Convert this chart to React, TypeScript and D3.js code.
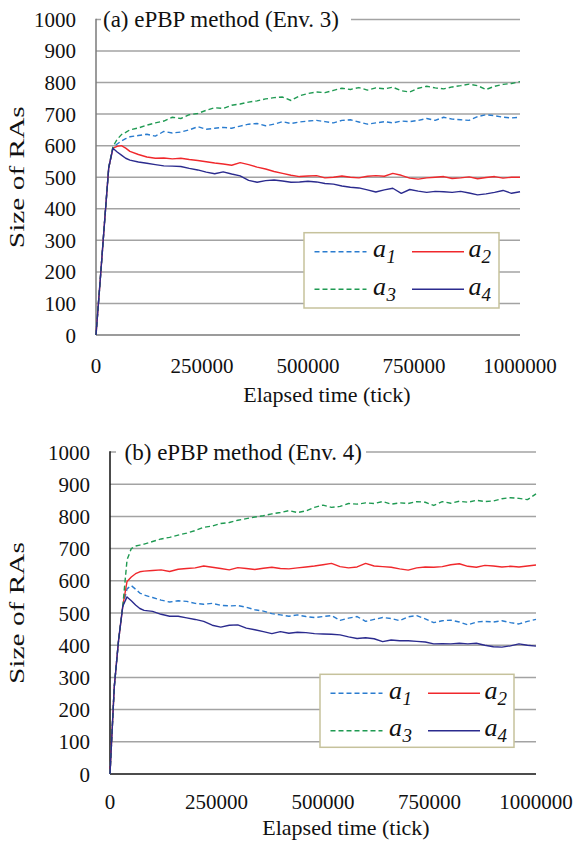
import React from 'react';
import * as d3 from 'd3';

const TICKS = [
  0, 10000, 20000, 30000, 40000, 50000, 60000, 70000, 80000,
  100000, 120000, 140000, 160000, 180000, 200000, 220000, 240000, 260000, 280000,
  300000, 320000, 340000, 360000, 380000, 400000, 420000, 440000, 460000, 480000,
  500000, 520000, 540000, 560000, 580000, 600000, 620000, 640000, 660000, 680000,
  700000, 720000, 740000, 760000, 780000, 800000, 820000, 840000, 860000, 880000,
  900000, 920000, 940000, 960000, 980000, 1000000,
];

const X_TICKS = [0, 250000, 500000, 750000, 1000000];
const Y_TICKS = [0, 100, 200, 300, 400, 500, 600, 700, 800, 900, 1000];
const SERIES_SUBS = ['1', '2', '3', '4'];
const SERIES_COLORS = ['#2a7ccf', '#f0282c', '#1f9a52', '#2b2b8e'];
const SERIES_DASHED = [true, false, true, false];

// (a) Env. 3
const A_A1 = [
  0, 175, 355, 530, 595, 605, 615, 622, 628,
  632, 636, 630, 645, 640, 643, 650, 660, 652, 655,
  658, 655, 662, 668, 670, 663, 668, 676, 670, 675,
  678, 680, 676, 672, 680, 682, 675, 668, 672, 676,
  672, 678, 676, 680, 686, 680, 690, 684, 682, 680,
  692, 698, 695, 690, 688, 690,
];
const A_A2 = [
  0, 175, 355, 530, 592, 598, 600, 592, 582,
  572, 564, 560, 561, 558, 560, 556, 553, 549, 545,
  542, 538, 546, 540, 532, 526, 518, 512, 506, 502,
  504, 505, 498, 500, 504, 500, 498, 503, 505, 503,
  512, 506, 497, 494, 498, 500, 502, 496, 498, 501,
  495, 499, 502, 497, 500, 500,
];
const A_A3 = [
  0, 175, 355, 530, 597, 620, 635, 642, 650,
  656, 665, 672, 678, 690, 686, 698, 702, 712, 720,
  718, 728, 732, 738, 742, 748, 752, 754, 743, 758,
  765, 770, 768, 775, 782, 778, 784, 776, 783, 780,
  785, 774, 770, 782, 788, 783, 780, 786, 790, 795,
  790, 778, 788, 794, 797, 803,
];
const A_A4 = [
  0, 175, 355, 530, 592, 580, 570, 560, 554,
  548, 544, 540, 536, 535, 534, 528, 523, 516, 511,
  517, 510, 504, 490, 484, 489, 491, 488, 484, 485,
  487, 485, 480, 478, 472, 468, 466, 460, 453, 460,
  465, 449, 461, 456, 452, 455, 454, 452, 455, 450,
  444, 447, 452, 458, 449, 454,
];

// (b) Env. 4
const B_A1 = [
  0, 270, 414, 521, 575, 585, 574, 562, 556,
  548, 540, 534, 538, 536, 530, 527, 530, 524, 522,
  523, 518, 510, 506, 498, 494, 490, 494, 489, 486,
  489, 492, 477, 484, 489, 474, 480, 486, 483, 476,
  488, 492, 482, 470, 476, 478, 472, 463, 472, 474,
  472, 476, 470, 466, 474, 480,
];
const B_A2 = [
  0, 270, 414, 521, 598, 612, 622, 628, 630,
  632, 634, 629, 636, 638, 640, 646, 642, 638, 634,
  641, 638, 635, 639, 642, 638, 637, 640, 643, 646,
  650, 654, 644, 640, 643, 654, 646, 644, 642, 637,
  633, 640, 643, 642, 644, 650, 653, 645, 642, 648,
  646, 643, 645, 643, 646, 649,
];
const B_A3 = [
  0, 270, 414, 521, 665, 700, 708, 711, 714,
  722, 730, 735, 742, 748, 756, 766, 770, 778, 781,
  788, 793, 798, 802, 808, 812, 818, 812, 817, 828,
  835, 828, 831, 840, 838, 842, 840, 846, 838, 842,
  840, 846, 844, 834, 846, 841, 847, 844, 850, 846,
  848, 855, 858, 856, 852, 870,
];
const B_A4 = [
  0, 270, 414, 521, 550, 538, 525, 514, 508,
  505, 496, 490, 490, 485, 480, 474, 462, 456, 462,
  463, 453, 448, 442, 436, 442, 437, 440, 439, 436,
  435, 434, 432, 426, 421, 423, 420, 411, 416, 414,
  414, 412, 410, 404, 405, 404, 406, 404, 406, 400,
  395, 394, 398, 404, 400, 397,
];

const PANELS = [
  {
    title: '(a) ePBP method (Env. 3)',
    series: [A_A1, A_A2, A_A3, A_A4],
    left: 96, right: 520, top: 19.4, bottom: 335,
    titleX: 103, gap: [101, 351],
    legend: { x: 304, y: 232.7, w: 195, h: 75.3 },
    axisColor: '#7a7a7a',
    xTitleX: 327, tickDy: 38, titleDy: 67,
  },
  {
    title: '(b) ePBP method (Env. 4)',
    series: [B_A1, B_A2, B_A3, B_A4],
    left: 110, right: 536, top: 452, bottom: 774,
    titleX: 124.6, gap: [116, 366],
    legend: { x: 320, y: 674.3, w: 194, h: 73 },
    axisColor: '#111111',
    xTitleX: 346, tickDy: 35, titleDy: 61,
  },
];

const FONT = "'Liberation Serif', Tinos, 'Times New Roman', Times, 'Nimbus Roman', serif";

function Panel({ p }: { p: any }) {
  const x = d3.scaleLinear().domain([0, 1000000]).range([p.left, p.right]);
  const y = d3.scaleLinear().domain([0, 1000]).range([p.bottom, p.top]);
  const line = d3
    .line<number>()
    .x((_, i) => x(TICKS[i]))
    .y((d) => y(d));
  const lg = p.legend;
  const rows = [lg.y + 19, lg.y + 56.5];
  const cols = [
    { l0: lg.x + 10.5, l1: lg.x + 62.5, a: lg.x + 69, s: lg.x + 82.5 },
    { l0: lg.x + 108, l1: lg.x + 160, a: lg.x + 164.5, s: lg.x + 177.5 },
  ];
  return (
    <g style={{ fontFamily: FONT }}>
      {Y_TICKS.filter((t) => t > 0).map((t) => (
        <line key={'g' + t} x1={p.left} x2={p.right} y1={y(t)} y2={y(t)} stroke="#a3a3a3" strokeWidth={1.5} />
      ))}
      <rect x={p.gap[0]} y={y(1000) - 14} width={p.gap[1] - p.gap[0]} height={28} fill="#fff" />
      <text x={p.titleX} y={y(1000) + 7.5} fontSize={23} fill="#111">
        {p.title}
      </text>
      <line x1={p.left} x2={p.left} y1={y(1000) - 0.75} y2={y(0)} stroke={p.axisColor} strokeWidth={1.5} />
      <line x1={p.left} x2={p.right} y1={y(0)} y2={y(0)} stroke={p.axisColor} strokeWidth={1.5} />
      {Y_TICKS.map((t) => (
        <text key={'y' + t} x={p.left - 20} y={y(t) + 7.5} textAnchor="end" fontSize={21} fill="#111">
          {t}
        </text>
      ))}
      {X_TICKS.map((t) => (
        <text key={'x' + t} x={x(t)} y={y(0) + p.tickDy} textAnchor="middle" fontSize={21} fill="#111">
          {t}
        </text>
      ))}
      <text x={p.xTitleX} y={y(0) + p.titleDy} textAnchor="middle" fontSize={22} fill="#111">
        Elapsed time (tick)
      </text>
      <text
        transform={`translate(24,${(y(0) + y(1000)) / 2}) rotate(-90)`}
        textAnchor="middle"
        fontSize={22}
        fill="#111"
        textLength={142}
        lengthAdjust="spacingAndGlyphs"
      >
        Size of RAs
      </text>
      {p.series.map((s: number[], i: number) => (
        <path
          key={'s' + i}
          d={line(s) || ''}
          fill="none"
          stroke={SERIES_COLORS[i]}
          strokeWidth={1.4}
          strokeDasharray={SERIES_DASHED[i] ? '5,3' : undefined}
          strokeLinejoin="round"
        />
      ))}
      <rect x={lg.x} y={lg.y} width={lg.w} height={lg.h} fill="#fff" stroke="#c6c29c" strokeWidth={1.5} />
      {SERIES_SUBS.map((sub, i) => {
        const r = rows[Math.floor(i / 2)];
        const c = cols[i % 2];
        return (
          <g key={'l' + i}>
            <line
              x1={c.l0}
              x2={c.l1}
              y1={r}
              y2={r}
              stroke={SERIES_COLORS[i]}
              strokeWidth={1.5}
              strokeDasharray={SERIES_DASHED[i] ? '5,3' : undefined}
            />
            <text x={c.a} y={r + 5.5} fontSize={26} fontStyle="italic" fill="#111">
              a
            </text>
            <text x={c.s} y={r + 11.5} fontSize={19} fontStyle="italic" fill="#111">
              {sub}
            </text>
          </g>
        );
      })}
    </g>
  );
}

export default function App() {
  return (
    <svg
      width={575}
      height={844}
      viewBox="0 0 575 844"
      style={{ position: 'absolute', left: 0, top: 0, background: '#fff' }}
    >
      <rect x={0} y={0} width={575} height={844} fill="#fff" />
      {PANELS.map((p, i) => (
        <Panel key={i} p={p} />
      ))}
    </svg>
  );
}
